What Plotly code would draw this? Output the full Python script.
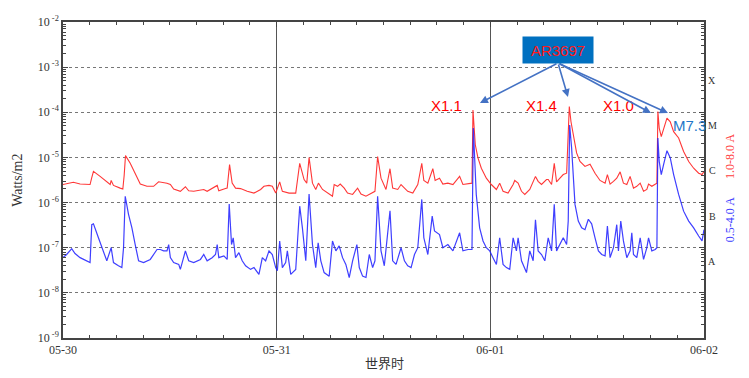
import plotly.graph_objects as go

# ---------------- data (hours since 05-30 00:00 UT, log10 of flux in W/m^2) ----------------
long_hours = [
    0, 1.16, 1.92, 3.04, 3.23, 3.42, 4.17, 4.92, 5.30, 5.41, 5.67, 6.42, 6.72, 6.87, 7.02, 7.55, 8.11, 8.68, 9.43, 10.18,
    10.74, 11.68, 12.06, 12.43, 13.18, 13.75, 14.12, 14.68, 15.81, 16.19, 17.32, 17.50, 18.25,
    18.44, 18.71, 19.00, 19.38, 19.94, 20.69, 21.45, 22.20, 22.57, 23.14, 23.51, 23.89, 24.34, 24.64, 25.39, 26.14,
    26.59, 27.08, 27.38, 27.64, 28.02, 28.39, 28.69, 29.15, 29.71, 30.27, 30.46, 30.84, 31.14, 31.59, 31.96, 32.53,
    33.09, 33.47, 34.03, 34.59, 35.04, 35.34, 35.72, 36.28,
    36.73, 37.03, 37.60, 37.97, 38.72, 39.29, 39.85, 40.30, 40.53, 40.98, 41.54, 41.80, 42.29, 42.67, 43.23, 43.80,
    44.55, 44.92, 45.49, 45.94, 46.05, 46.31, 46.61, 46.99, 47.55, 48.11, 48.68, 49.05, 49.43, 49.99, 50.56, 50.74,
    51.12, 51.50, 51.87, 52.43, 53.07, 53.37, 53.75, 54.31,
    54.50, 54.88, 55.18, 55.44, 55.82, 56.19, 56.57, 56.87, 57.06, 57.32, 57.69, 58.07, 58.63, 59.20, 59.76, 60.32,
    60.89, 61.15, 61.45, 61.83, 62.20, 62.58, 62.95, 63.33, 63.70, 64.08, 64.45, 64.83, 65.21, 65.58, 65.77, 66.14,
    66.71, 66.82, 66.97, 67.20, 67.46, 67.84, 68.21, 68.59, 69.15, 69.71, 70.28, 70.84, 71.40, 71.78, 72.0,
]
long_log10 = [
    -5.60, -5.55, -5.59, -5.60, -5.45, -5.31, -5.42, -5.54, -5.60, -5.51, -5.62, -5.68, -5.70, -5.40, -4.96, -5.13, -5.35, -5.59, -5.64, -5.64,
    -5.54, -5.57, -5.60, -5.70, -5.75, -5.65, -5.74, -5.75, -5.71, -5.75, -5.62, -5.74, -5.69,
    -5.68, -5.16, -5.57, -5.68, -5.69, -5.75, -5.79, -5.71, -5.64, -5.62, -5.64, -5.79, -5.54, -5.75, -5.79, -5.79,
    -5.13, -5.49, -5.57, -5.00, -5.57, -5.71, -5.57, -5.71, -5.79, -5.86, -5.60, -5.64, -5.59, -5.68, -5.79, -5.82,
    -5.68, -5.81, -5.86, -5.79, -5.75, -4.98, -5.46, -5.71,
    -5.25, -5.68, -5.71, -5.60, -5.75, -5.79, -5.60, -5.13, -5.51, -5.57, -5.25, -5.51, -5.46, -5.59, -5.57, -5.60,
    -5.42, -5.60, -5.59, -5.57, -3.95, -4.72, -5.01, -5.24, -5.46, -5.60, -5.71, -5.57, -5.75, -5.79, -5.60, -5.51,
    -5.57, -5.75, -5.82, -5.71, -5.42, -5.53, -5.60, -5.49,
    -5.49, -5.60, -5.13, -5.54, -5.46, -5.38, -5.35, -3.875, -4.21, -4.50, -4.90, -5.09, -5.20, -5.15, -5.35, -5.51,
    -5.57, -5.38, -5.59, -5.53, -5.46, -5.32, -5.57, -5.60, -5.42, -5.68, -5.64, -5.57, -5.75, -5.71, -5.59, -5.64,
    -5.57, -3.985, -4.35, -4.54, -4.35, -4.13, -4.21, -4.43, -4.57, -4.87, -5.09, -5.24, -5.35, -5.38, -5.31,
]

short_hours = [
    0, 0.41, 0.98, 1.35, 1.92, 2.67, 3.04, 3.23, 3.42, 3.98, 4.36, 4.92, 5.41, 5.67, 6.23, 6.61, 6.80, 6.99, 7.36, 7.74,
    8.11, 8.49, 9.05, 9.80, 10.56, 10.93, 11.30, 11.68, 11.87, 12.06, 12.43, 13.00, 13.18, 13.75, 14.12, 14.68, 15.44,
    15.81, 16.19, 16.75, 17.13, 17.32, 17.50, 18.07,
    18.44, 18.67, 18.93, 19.12, 19.38, 19.76, 20.13, 20.51, 21.07, 21.45, 22.01, 22.39, 22.76, 23.14, 23.51, 23.89,
    24.08, 24.34, 24.64, 25.01, 25.20, 25.58, 26.14, 26.59, 26.89, 27.27, 27.64, 28.02, 28.39, 28.66, 28.96, 29.33,
    29.90, 30.27, 30.65, 31.02, 31.40, 31.77, 32.15, 32.53, 33.01, 33.28, 33.65, 34.03, 34.40, 34.78, 35.04, 35.34,
    35.72, 36.09,
    36.73, 37.03, 37.41, 37.97, 38.35, 38.72, 39.10, 39.48, 39.85, 40.30, 40.53, 40.98, 41.47, 41.73, 42.29, 42.67,
    43.23, 43.80, 44.55, 44.92, 45.49, 45.94, 46.09, 46.25, 46.42, 46.80, 47.18, 47.55, 47.93, 48.30, 48.68, 49.05,
    49.43, 49.81, 50.18, 50.56, 50.93, 51.12, 51.50, 52.06, 52.43, 52.81, 53.07, 53.37, 53.75, 54.12,
    54.50, 54.88, 55.18, 55.44, 55.82, 56.19, 56.57, 56.75, 56.91, 57.13, 57.51, 57.88, 58.26, 58.63, 59.01, 59.38,
    59.76, 60.14, 60.51, 60.89, 61.15, 61.45, 61.83, 62.20, 62.39, 62.65, 62.95, 63.33, 63.70, 63.89, 64.08, 64.45,
    64.83, 65.21, 65.58, 65.77, 66.14, 66.52, 66.71, 66.82, 66.97, 67.20, 67.46, 67.84, 68.21, 68.59, 69.15, 69.71,
    70.28, 70.84, 71.40, 71.78, 72.0,
]
short_log10 = [
    -7.22, -7.15, -7.02, -7.13, -7.22, -7.29, -7.33, -6.49, -6.47, -6.78, -7.00, -7.29, -7.00, -7.33, -7.40, -7.44, -7.00, -5.86, -6.26, -6.56,
    -6.93, -7.29, -7.33, -7.26, -7.04, -7.04, -7.07, -7.07, -6.93, -7.22, -7.33, -7.37, -7.48, -7.07, -7.29, -7.33, -7.26,
    -7.15, -7.29, -7.22, -7.15, -6.93, -7.22, -7.18,
    -7.26, -6.03, -6.93, -6.78, -7.22, -7.11, -7.29, -7.40, -7.48, -7.44, -7.59, -7.22, -7.29, -7.07, -7.15, -7.44,
    -7.51, -6.85, -7.44, -7.33, -7.07, -7.59, -7.48, -6.08, -6.56, -7.29, -5.81, -6.93, -7.44, -6.89, -7.29, -7.55,
    -7.63, -6.85, -7.07, -6.96, -7.22, -7.37, -7.66, -7.29, -6.93, -7.44, -7.63, -7.66, -7.15, -7.44, -7.29, -5.86,
    -7.07, -7.40,
    -6.18, -7.29, -7.37, -7.00, -7.29, -7.40, -7.44, -7.15, -7.00, -5.93, -6.78, -7.15, -6.30, -6.63, -6.71, -7.00,
    -6.93, -7.07, -6.67, -7.07, -7.04, -7.04, -4.35, -5.30, -5.82, -6.56, -6.85, -7.00, -7.07, -7.22, -7.37, -6.78,
    -7.37, -7.44, -7.48, -6.78, -7.07, -6.78, -7.29, -7.55, -7.07, -7.29, -6.38, -7.07, -7.15, -7.29,
    -6.78, -7.07, -6.04, -7.07, -6.93, -6.78, -6.93, -6.41, -4.28, -4.79, -6.04, -6.41, -6.56, -6.60, -6.37, -6.47,
    -6.78, -7.07, -7.15, -7.18, -6.52, -7.22, -7.00, -6.49, -7.07, -6.41, -6.85, -7.22, -7.07, -6.67, -7.15, -7.22,
    -6.78, -7.26, -7.00, -6.78, -7.07, -7.04, -7.00, -4.57, -5.09, -5.38, -5.16, -4.85, -5.01, -5.38, -5.82, -6.19,
    -6.41, -6.56, -6.74, -6.85, -6.60,
]
assert len(long_hours) == len(long_log10)
assert len(short_hours) == len(short_log10)

day_ticks = [0, 24, 48, 72]
day_labels = ["05-30", "05-31", "06-01", "06-02"]
decades = [-9, -8, -7, -6, -5, -4, -3, -2]
flare_classes = ["A", "B", "C", "M", "X"]
class_levels = [-7.3, -6.3, -5.3, -4.3, -3.3]

long_flux = [10 ** v for v in long_log10]
short_flux = [10 ** v for v in short_log10]
minor_vals = [k * 10 ** d for d in decades[:-1] for k in range(2, 10)]

SERIF = "Liberation Serif"
SANS = "Liberation Sans"

fig = go.Figure()
fig.add_trace(go.Scatter(x=long_hours, y=long_flux, mode="lines",
                         line=dict(color="rgb(255,55,55)", width=1.1), name="1.0-8.0 A"))
fig.add_trace(go.Scatter(x=short_hours, y=short_flux, mode="lines",
                         line=dict(color="rgb(30,30,255)", width=1.2), opacity=0.85, name="0.5-4.0 A"))

fig.update_layout(
    width=749, height=378,
    margin=dict(l=63, r=45, t=22, b=40),
    paper_bgcolor="white", plot_bgcolor="white",
    showlegend=False,
)
fig.update_xaxes(
    range=[0, 72], tickmode="array", tickvals=day_ticks, ticktext=day_labels,
    ticks="inside", ticklen=5, tickcolor="#444",
    minor=dict(dtick=3, ticks="inside", ticklen=3, tickcolor="#444", showgrid=False),
    showgrid=True, gridcolor="#555", gridwidth=1,
    showline=True, linecolor="#444", linewidth=1.5, mirror="ticks",
    tickfont=dict(family=SERIF, size=12, color="#333"),
    zeroline=False,
)
fig.update_yaxes(
    type="log", range=[-9, -2], tickmode="array",
    tickvals=[10 ** d for d in decades],
    ticktext=["10<sup> %d</sup>" % d for d in decades],
    ticks="inside", ticklen=5, tickcolor="#444",
    minor=dict(tickmode="array", tickvals=minor_vals, ticks="inside", ticklen=3,
               tickcolor="#444", showgrid=False),
    showgrid=True, gridcolor="#777", gridwidth=1, griddash="dot",
    showline=True, linecolor="#444", linewidth=1.5, mirror="ticks",
    tickfont=dict(family=SERIF, size=12, color="#333"),
    zeroline=False,
)

ann = []
# axis titles
ann.append(dict(text="Watts/m2", xref="paper", yref="paper", x=-0.072, y=0.5, textangle=-90,
                showarrow=False, font=dict(family=SERIF, size=14, color="#333"), xanchor="center", yanchor="middle"))
ann.append(dict(text="世界时", xref="paper", yref="paper", x=0.502, y=-0.076, showarrow=False,
                font=dict(family="Noto Sans CJK SC", size=13, color="#333"), xanchor="center", yanchor="middle"))
# right side channel labels
ann.append(dict(text="1.0-8.0 A", xref="paper", yref="paper", x=1.0406, y=0.573, textangle=-90,
                showarrow=False, font=dict(family=SERIF, size=12, color="rgb(255,60,60)"), xanchor="center", yanchor="middle"))
ann.append(dict(text="0.5-4.0 A", xref="paper", yref="paper", x=1.0406, y=0.373, textangle=-90,
                showarrow=False, font=dict(family=SERIF, size=12, color="rgb(60,60,255)"), xanchor="center", yanchor="middle"))
# flare class letters
for c, lv in zip(flare_classes, class_levels):
    ann.append(dict(text=c, xref="paper", yref="y", x=1.013, y=lv, showarrow=False, xanchor="center",
                    yanchor="middle", font=dict(family=SERIF, size=10, color="#333")))
# flare labels
for txt, px, py, col in [("X1.1", 0.599, 0.737, "#ff0000"), ("X1.4", 0.747, 0.737, "#ff0000"),
                         ("X1.0", 0.866, 0.737, "#ff0000"), ("M7.3", 0.978, 0.674, "#1f78c8")]:
    ann.append(dict(text=txt, xref="paper", yref="paper", x=px, y=py, showarrow=False,
                    xanchor="center", yanchor="middle", font=dict(family=SANS, size=15, color=col)))
# arrows from the AR box
for tx, ty, ax, ay in [(0.6505, 0.7437, 78, -40), (0.7878, 0.7627, -10, -34),
                       (0.9173, 0.712, -93, -50), (0.9438, 0.712, -110, -50)]:
    ann.append(dict(text="", xref="paper", yref="paper", x=tx, y=ty, ax=ax, ay=ay, showarrow=True,
                    arrowhead=2, arrowsize=1, arrowwidth=1.6, arrowcolor="#4472c4", standoff=0))
# AR box
ann.append(dict(text="AR3697", xref="paper", yref="paper", x=0.772, y=0.911, showarrow=False,
                xanchor="center", yanchor="middle", bgcolor="#0070c0", width=68, height=24,
                font=dict(family=SANS, size=15, color="#ff1a1a")))
fig.update_layout(annotations=ann)

fig.write_html("out.html")
